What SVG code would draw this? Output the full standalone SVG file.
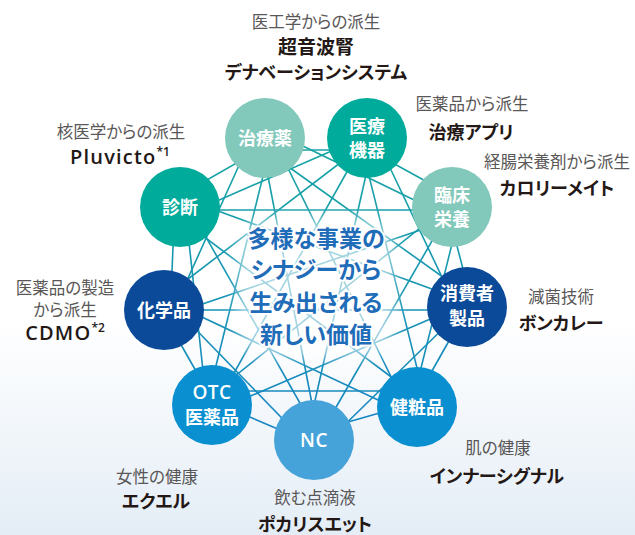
<svg xmlns="http://www.w3.org/2000/svg" width="635" height="535" viewBox="0 0 635 535">
<defs>
<linearGradient id="bg" x1="0" y1="0" x2="0" y2="535" gradientUnits="userSpaceOnUse">
<stop offset="0" stop-color="#ffffff"/>
<stop offset="0.6" stop-color="#ffffff"/>
<stop offset="1" stop-color="#e4edf6"/>
</linearGradient>
<linearGradient id="lg" x1="0" y1="140" x2="0" y2="440" gradientUnits="userSpaceOnUse">
<stop offset="0" stop-color="#16a5a2"/>
<stop offset="1" stop-color="#1684c3"/>
</linearGradient>
<filter id="blur" x="-30%" y="-30%" width="160%" height="160%">
<feGaussianBlur stdDeviation="7"/>
</filter>
<style>
.ln{stroke:url(#lg);stroke-width:1.6;fill:none}
.jp{font-family:"Noto Sans CJK JP","Noto Sans",sans-serif;font-feature-settings:"palt"}
.sub{font-size:16.5px;fill:#595757;text-anchor:middle}
.main{font-size:18px;font-weight:700;fill:#231815;text-anchor:middle}
.lat{font-family:"Open Sans","Noto Sans",sans-serif;font-size:20px;font-weight:600;letter-spacing:1.2px;fill:#231815;text-anchor:middle}
.nt{font-size:18px;font-weight:700;fill:#ffffff;text-anchor:middle}
.ntl{font-family:"Open Sans","Noto Sans",sans-serif;font-size:19px;font-weight:600;letter-spacing:0.5px;fill:#ffffff;text-anchor:middle}
.ctr{font-size:23px;font-weight:700;fill:#1f6cb8;text-anchor:middle;stroke:#ffffff;stroke-width:4;stroke-linejoin:round;paint-order:stroke}
.sup{font-size:12px;letter-spacing:0}
</style>
</defs>
<rect width="635" height="535" fill="url(#bg)"/>
<g id="connectors">
<line class="ln" x1="265" y1="150" x2="367" y2="150"/>
<line class="ln" x1="270" y1="130" x2="445" y2="215"/>
<line class="ln" x1="258" y1="145" x2="475" y2="300"/>
<line class="ln" x1="275" y1="142" x2="410" y2="415"/>
<line class="ln" x1="260" y1="135" x2="320" y2="445"/>
<line class="ln" x1="272" y1="140" x2="205" y2="410"/>
<line class="ln" x1="255" y1="130" x2="170" y2="318"/>
<line class="ln" x1="268" y1="145" x2="172" y2="200"/>
<line class="ln" x1="360" y1="145" x2="460" y2="200"/>
<line class="ln" x1="372" y1="130" x2="460" y2="315"/>
<line class="ln" x1="360" y1="140" x2="425" y2="400"/>
<line class="ln" x1="375" y1="135" x2="305" y2="445"/>
<line class="ln" x1="362" y1="145" x2="220" y2="398"/>
<line class="ln" x1="370" y1="140" x2="158" y2="302"/>
<line class="ln" x1="375" y1="132" x2="185" y2="215"/>
<line class="ln" x1="445" y1="200" x2="475" y2="315"/>
<line class="ln" x1="460" y1="212" x2="410" y2="412"/>
<line class="ln" x1="447" y1="215" x2="320" y2="435"/>
<line class="ln" x1="455" y1="200" x2="205" y2="400"/>
<line class="ln" x1="450" y1="220" x2="170" y2="315"/>
<line class="ln" x1="452" y1="210" x2="180" y2="210"/>
<line class="ln" x1="472" y1="300" x2="410" y2="410"/>
<line class="ln" x1="460" y1="312" x2="322" y2="447"/>
<line class="ln" x1="470" y1="302" x2="218" y2="410"/>
<line class="ln" x1="467" y1="310" x2="164" y2="310"/>
<line class="ln" x1="462" y1="300" x2="188" y2="200"/>
<line class="ln" x1="425" y1="400" x2="306" y2="434"/>
<line class="ln" x1="417" y1="391" x2="212" y2="391"/>
<line class="ln" x1="410" y1="415" x2="170" y2="302"/>
<line class="ln" x1="422" y1="400" x2="175" y2="215"/>
<line class="ln" x1="320" y1="447" x2="205" y2="398"/>
<line class="ln" x1="308" y1="445" x2="172" y2="305"/>
<line class="ln" x1="318" y1="435" x2="185" y2="200"/>
<line class="ln" x1="218" y1="410" x2="158" y2="304"/>
<line class="ln" x1="206" y1="398" x2="186" y2="215"/>
<line class="ln" x1="170" y1="318" x2="175" y2="200"/>
</g>
<rect x="238" y="218" width="156" height="140" rx="30" fill="#ffffff" opacity="0.6" filter="url(#blur)"/>
<g id="n-chiryouyaku">
<circle cx="265" cy="138" r="40" fill="#82c8bb"/>
<text class="jp nt" x="265" y="145">治療薬</text>
</g>
<g id="n-iryoukiki">
<circle cx="367" cy="138" r="40" fill="#00ab9c"/>
<text class="jp nt" x="367" y="133">医療</text>
<text class="jp nt" x="367" y="157">機器</text>
</g>
<g id="n-rinshoueiyou">
<circle cx="452" cy="207" r="40" fill="#82c8bb"/>
<text class="jp nt" x="452" y="202">臨床</text>
<text class="jp nt" x="452" y="226">栄養</text>
</g>
<g id="n-shouhisha">
<circle cx="467" cy="307" r="40" fill="#0a4a98"/>
<text class="jp nt" x="467" y="300">消費者</text>
<text class="jp nt" x="467" y="325">製品</text>
</g>
<g id="n-kenshouhin">
<circle cx="417" cy="407" r="40" fill="#0a8fd0"/>
<text class="jp nt" x="417" y="414">健粧品</text>
</g>
<g id="n-nc">
<circle cx="314" cy="440" r="40" fill="#45a3da"/>
<text class="ntl" x="314" y="447">NC</text>
</g>
<g id="n-otc">
<circle cx="212" cy="405" r="40" fill="#0a8fd0"/>
<text class="ntl" x="212" y="399">OTC</text>
<text class="jp nt" x="212" y="424">医薬品</text>
</g>
<g id="n-kagakuhin">
<circle cx="164" cy="310" r="40" fill="#0a4a98"/>
<text class="jp nt" x="164" y="317">化学品</text>
</g>
<g id="n-shindan">
<circle cx="180" cy="207" r="40" fill="#00ab9c"/>
<text class="jp nt" x="180" y="214">診断</text>
</g>
<g id="center-text">
<text class="jp ctr" x="316" y="247">多様な事業の</text>
<text class="jp ctr" x="316" y="278">シナジーから</text>
<text class="jp ctr" x="316" y="311">生み出される</text>
<text class="jp ctr" x="316" y="343">新しい価値</text>
</g>
<g id="labels">
<text class="jp sub" x="316" y="28">医工学からの派生</text>
<text class="jp main" x="316" y="54" style="font-size:19px">超音波腎</text>
<text class="jp main" x="316" y="79">デナベーションシステム</text>
<text class="jp sub" x="472" y="110">医薬品から派生</text>
<text class="jp main" x="471" y="139">治療アプリ</text>
<text class="jp sub" x="557" y="168">経腸栄養剤から派生</text>
<text class="jp main" x="557" y="195">カロリーメイト</text>
<text class="jp sub" x="561" y="303">減菌技術</text>
<text class="jp main" x="561" y="330">ボンカレー</text>
<text class="jp sub" x="498" y="454">肌の健康</text>
<text class="jp main" x="497" y="483">インナーシグナル</text>
<text class="jp sub" x="315" y="504">飲む点滴液</text>
<text class="jp main" x="315" y="531">ポカリスエット</text>
<text class="jp sub" x="157" y="483">女性の健康</text>
<text class="jp main" x="156" y="508">エクエル</text>
<text class="jp sub" x="65" y="294">医薬品の製造</text>
<text class="jp sub" x="65" y="316">から派生</text>
<text class="lat" x="65" y="340">CDMO<tspan class="sup" dy="-8">*2</tspan></text>
<text class="jp sub" x="121" y="138">核医学からの派生</text>
<text class="lat" x="120" y="164">Pluvicto<tspan class="sup" dy="-8">*1</tspan></text>
</g>
</svg>
